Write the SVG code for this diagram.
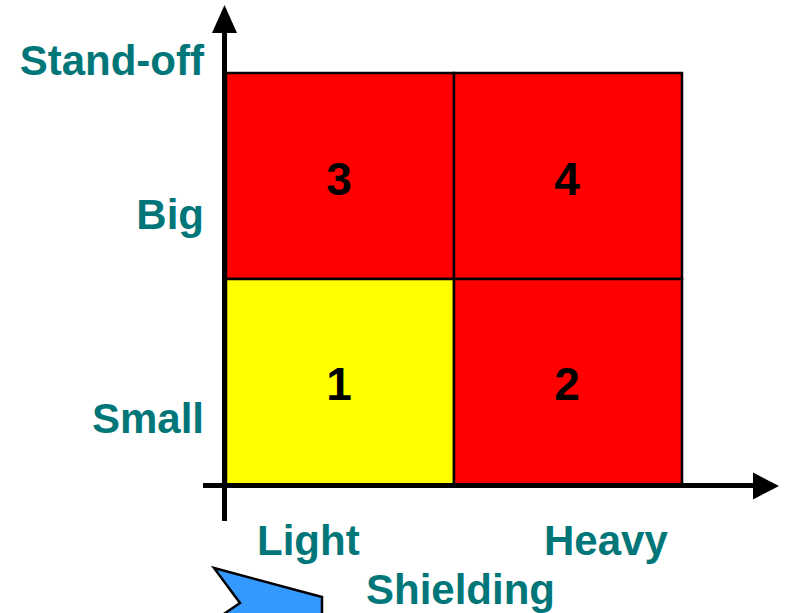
<svg xmlns="http://www.w3.org/2000/svg" width="785" height="613" viewBox="0 0 785 613">
<style>
.lbl{font-family:"Liberation Sans",Arial,sans-serif;font-weight:bold;font-size:42px;fill:#007679}
.num{font-family:"Liberation Sans",Arial,sans-serif;font-weight:bold;font-size:46px;fill:#000;text-anchor:middle}
.cell{stroke:#000;stroke-width:2.5}
.axis{stroke:#000;stroke-width:5;fill:none}
</style>
<rect width="785" height="613" fill="#fff"/>
<g id="cell3"><rect class="cell" x="226" y="73" width="228" height="206" fill="#ff0000"/><text class="num" x="339" y="195">3</text></g>
<g id="cell4"><rect class="cell" x="454" y="73" width="228" height="206" fill="#ff0000"/><text class="num" x="567" y="195">4</text></g>
<g id="cell1"><rect class="cell" x="226" y="279" width="228" height="206" fill="#ffff00"/><text class="num" x="339" y="400">1</text></g>
<g id="cell2"><rect class="cell" x="454" y="279" width="228" height="206" fill="#ff0000"/><text class="num" x="567" y="400">2</text></g>
<g id="connectors">
<line class="axis" x1="224.5" y1="521" x2="224.5" y2="30"/>
<polygon points="224.5,5 212,33 237,33" fill="#000"/>
<line class="axis" x1="203" y1="485.5" x2="755" y2="485.5"/>
<polygon points="779,486 753,472.5 753,499.5" fill="#000"/>
</g>
<g id="labels">
<text class="lbl" x="204" y="75" text-anchor="end">Stand-off</text>
<text class="lbl" x="204" y="229" text-anchor="end">Big</text>
<text class="lbl" x="204" y="433" text-anchor="end">Small</text>
<text class="lbl" x="257" y="555">Light</text>
<text class="lbl" x="544" y="555">Heavy</text>
<text class="lbl" x="366" y="604">Shielding</text>
</g>
<g id="blue-arrow">
<polygon points="214,568 322,597 322,620 215,620 240,603" fill="#3399ff" stroke="#000" stroke-width="2.5" stroke-linejoin="miter"/>
</g>
</svg>
